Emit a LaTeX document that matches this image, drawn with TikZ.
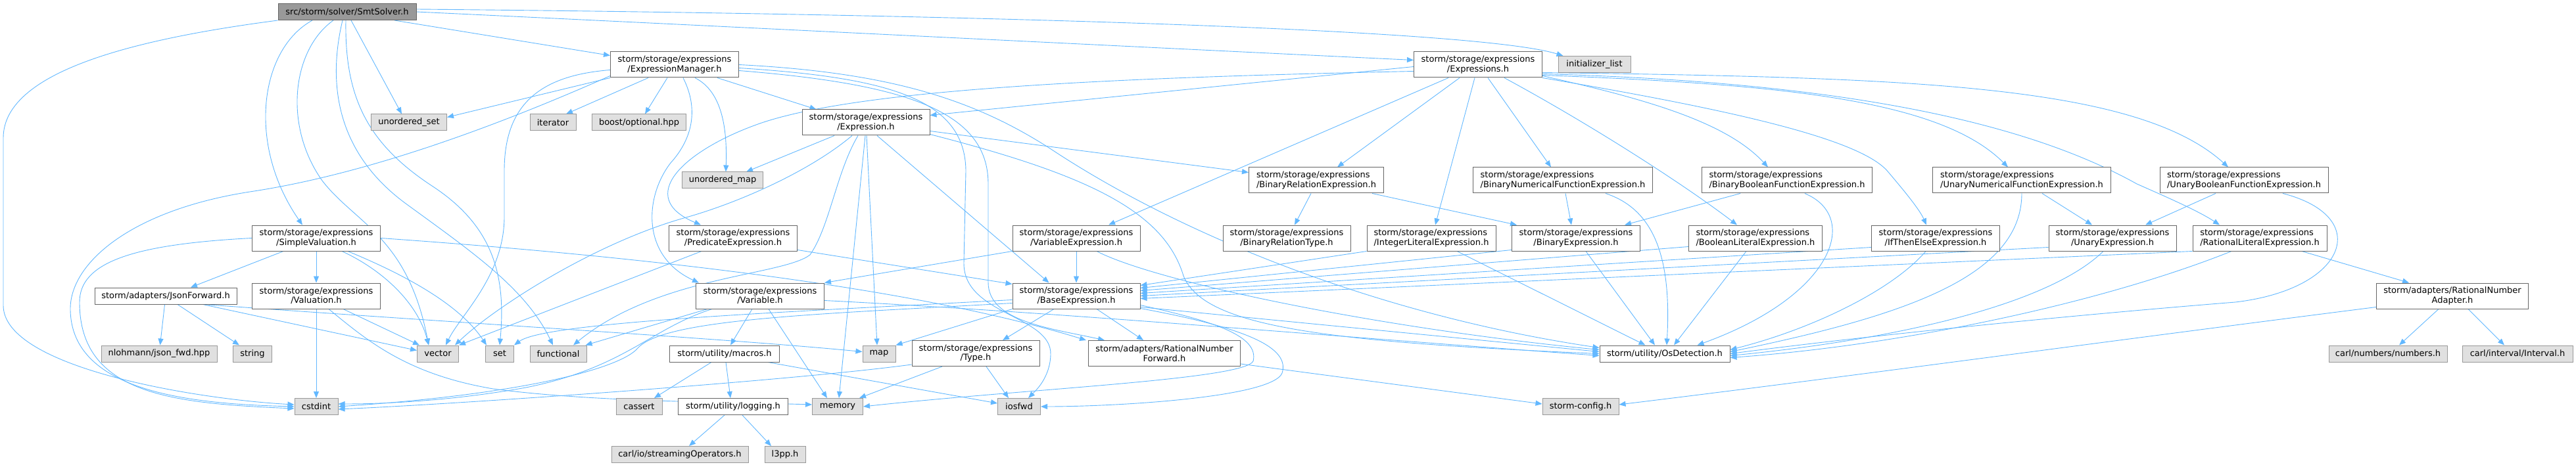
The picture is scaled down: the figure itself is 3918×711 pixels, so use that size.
\documentclass[tikz,border=0pt]{standalone}
\usepackage{fontspec}
\usepackage{tikz}
\usetikzlibrary{arrows.meta,calc,backgrounds}
\newfontfamily\doxyfont{DejaVu Sans}
\definecolor{edgeblue}{HTML}{63B8FF}
\definecolor{nodeline}{HTML}{666666}
\definecolor{sysline}{HTML}{999999}
\definecolor{sysfill}{HTML}{E0E0E0}
\definecolor{rootfill}{HTML}{999999}

\begin{document}
\begin{tikzpicture}[
  x=1pt, y=-1pt,
  hdr/.style={draw=nodeline, fill=white, line width=1pt, inner xsep=4pt, inner ysep=1pt,
    minimum height=25pt, font={\doxyfont\fontsize{13}{14.3}\selectfont}},
  hdrtwo/.style={hdr, minimum height=39pt, align=center},
  hdrleft/.style={hdr, minimum height=39pt, align=left},
  sys/.style={hdr, draw=sysline, fill=sysfill},
  root/.style={hdr, fill=rootfill},
  dep/.style={-{Triangle[length=10pt,width=8pt]}, draw=edgeblue, line width=0.9pt}
]
\useasboundingbox (0,0) rectangle (3918,711);

\node[root, minimum width=210pt] (smt) at (528,18) {src/storm/solver/SmtSolver.h};
\node[hdrtwo, minimum width=195pt] (exprmgr) at (1026,98.5) {storm/storage/expressions\\/ExpressionManager.h};
\node[hdrtwo, minimum width=195pt] (expressions) at (2248,98.5) {storm/storage/expressions\\/Expressions.h};
\node[sys, minimum width=110pt] (initlist) at (2425,98) {initializer\_list};
\node[sys, minimum width=115pt] (uset) at (622,186.5) {unordered\_set};
\node[sys, minimum width=70pt] (iterator) at (841,186.5) {iterator};
\node[sys, minimum width=143pt] (boostopt) at (972,186.5) {boost/optional.hpp};
\node[hdrtwo, minimum width=194pt] (expression) at (1317,186.5) {storm/storage/expressions\\/Expression.h};
\node[sys, minimum width=123pt] (umap) at (1099,274.5) {unordered\_map};
\node[hdrleft, minimum width=205pt] (binrel) at (2002,274.5) {storm/storage/expressions\\/BinaryRelationExpression.h};
\node[hdrleft, minimum width=273pt] (binnum) at (2377,274.5) {storm/storage/expressions\\/BinaryNumericalFunctionExpression.h};
\node[hdrleft, minimum width=259pt] (binbool) at (2718,274.5) {storm/storage/expressions\\/BinaryBooleanFunctionExpression.h};
\node[hdrleft, minimum width=271pt] (unnum) at (3075,274.5) {storm/storage/expressions\\/UnaryNumericalFunctionExpression.h};
\node[hdrleft, minimum width=256pt] (unbool) at (3413,274.5) {storm/storage/expressions\\/UnaryBooleanFunctionExpression.h};
\node[hdrtwo, minimum width=195pt] (simpval) at (481,362.5) {storm/storage/expressions\\/SimpleValuation.h};
\node[hdrtwo, minimum width=195pt] (predicate) at (1115,362.5) {storm/storage/expressions\\/PredicateExpression.h};
\node[hdrtwo, minimum width=194pt] (varexpr) at (1637,362.5) {storm/storage/expressions\\/VariableExpression.h};
\node[hdrtwo, minimum width=194pt] (binreltype) at (1957,362.5) {storm/storage/expressions\\/BinaryRelationType.h};
\node[hdrleft, minimum width=196pt] (intlit) at (2177,362.5) {storm/storage/expressions\\/IntegerLiteralExpression.h};
\node[hdrtwo, minimum width=195pt] (binexpr) at (2397,362.5) {storm/storage/expressions\\/BinaryExpression.h};
\node[hdrleft, minimum width=203pt] (boollit) at (2670,362.5) {storm/storage/expressions\\/BooleanLiteralExpression.h};
\node[hdrtwo, minimum width=195pt] (ite) at (2944,362.5) {storm/storage/expressions\\/IfThenElseExpression.h};
\node[hdrtwo, minimum width=194pt] (unexpr) at (3213,362.5) {storm/storage/expressions\\/UnaryExpression.h};
\node[hdrleft, minimum width=204pt] (ratlit) at (3437,362.5) {storm/storage/expressions\\/RationalLiteralExpression.h};
\node[hdr, minimum width=216pt] (json) at (252,450.5) {storm/adapters/JsonForward.h};
\node[hdrtwo, minimum width=195pt] (valuation) at (481,450.5) {storm/storage/expressions\\/Valuation.h};
\node[hdrtwo, minimum width=195pt] (variable) at (1156,450.5) {storm/storage/expressions\\/Variable.h};
\node[hdrtwo, minimum width=194pt] (base) at (1637,450.5) {storm/storage/expressions\\/BaseExpression.h};
\node[hdrtwo, minimum width=231pt] (ratadapt) at (3730,450.5) {storm/adapters/RationalNumber\\Adapter.h};
\node[sys, minimum width=176pt] (nlohmann) at (242,538.5) {nlohmann/json\_fwd.hpp};
\node[sys, minimum width=59pt] (string) at (384,538.5) {string};
\node[sys, minimum width=63pt] (vector) at (666,538.5) {vector};
\node[sys, minimum width=43pt] (set) at (760,538.5) {set};
\node[sys, minimum width=86pt] (functional) at (849,538.5) {functional};
\node[hdr, minimum width=167pt] (macros) at (1102,538.5) {storm/utility/macros.h};
\node[sys, minimum width=50pt] (map) at (1337,538.5) {map};
\node[hdrtwo, minimum width=194pt] (type) at (1484,538) {storm/storage/expressions\\/Type.h};
\node[hdrtwo, minimum width=231pt] (ratfwd) at (1771,538) {storm/adapters/RationalNumber\\Forward.h};
\node[hdr, minimum width=198pt] (osdet) at (2532,538.5) {storm/utility/OsDetection.h};
\node[sys, minimum width=180pt] (carlnum) at (3632,538.5) {carl/numbers/numbers.h};
\node[sys, minimum width=168pt] (carlint) at (3829,538.5) {carl/interval/Interval.h};
\node[sys, minimum width=66pt] (cstdint) at (481,619) {cstdint};
\node[sys, minimum width=70pt] (cassert) at (972,619) {cassert};
\node[hdr, minimum width=167pt] (logging) at (1115,619) {storm/utility/logging.h};
\node[sys, minimum width=77pt] (memory) at (1274,619) {memory};
\node[sys, minimum width=65pt] (iosfwd) at (1550,619) {iosfwd};
\node[sys, minimum width=116pt] (stormcfg) at (2404,619) {storm-config.h};
\node[sys, minimum width=208pt] (streamops) at (1034,692) {carl/io/streamingOperators.h};
\node[sys, minimum width=62pt] (l3pp) at (1194,692) {l3pp.h};

\begin{scope}[on background layer]
\draw[dep] (smt.south west) .. controls (200,60) and (5,110) .. (5,210) -- (5,465) .. controls (5,560) and (300,608) .. ($(cstdint.west)+(0,-3)$);
\draw[dep] ($(smt.south)+(-53,0)$) .. controls (395,75) and (375,220) .. ($(simpval.north)+(-21,0)$);
\draw[dep] ($(smt.south)+(-21,0)$) .. controls (445,75) and (430,190) .. (490,275) .. controls (540,340) and (620,360) .. ($(vector.north)+(-14,0)$);
\draw[dep] ($(smt.south)+(-2,0)$) .. controls (524,150) and (560,220) .. (660,285) .. controls (750,345) and (770,420) .. (set.north);
\draw[dep] ($(smt.south)+(-7,0)$) .. controls (495,140) and (520,240) .. (620,312) .. controls (720,385) and (800,440) .. ($(functional.north)+(-8,0)$);
\draw[dep] ($(smt.south)+(6,0)$) -- ($(uset.north)+(-11,0)$);
\draw[dep] ($(smt.south)+(72,0)$) -- ($(exprmgr.west)+(0,-14)$);
\draw[dep] (smt.east) .. controls (1100,40) and (1800,75) .. ($(expressions.west)+(0,-7)$);
\draw[dep] ($(smt.east)+(0,-4)$) .. controls (1500,22) and (2250,45) .. ($(initlist.north west)+(8,0)$);

\draw[dep] (exprmgr.south west) -- ($(uset.east)+(0,-8)$);
\draw[dep] ($(exprmgr.south west)+(0,-3)$) .. controls (760,190) and (560,265) .. (380,292) .. controls (200,320) and (107,400) .. (107,470) .. controls (107,600) and (300,615) .. (cstdint.west);
\draw[dep] ($(exprmgr.west)+(0,8)$) .. controls (820,115) and (767,160) .. (767,260) -- (767,330) .. controls (767,420) and (700,480) .. ($(vector.north)+(12,0)$);
\draw[dep] ($(exprmgr.south)+(-40,0)$) -- ($(iterator.north)+(20,0)$);
\draw[dep] ($(exprmgr.south)+(-11,0)$) -- ($(boostopt.north)+(9,0)$);
\draw[dep] ($(exprmgr.south)+(31,0)$) .. controls (1100,140) and (1106,200) .. ($(umap.north)+(5,0)$);
\draw[dep] ($(exprmgr.south)+(65,0)$) -- ($(expression.north west)+(22,0)$);
\draw[dep] ($(exprmgr.south)+(13,0)$) .. controls (1065,170) and (1050,215) .. (1020,248) .. controls (980,300) and (975,390) .. ($(variable.north west)+(5,0)$);
\draw[dep] (exprmgr.east) .. controls (1350,110) and (1480,150) .. (1600,228) .. controls (1800,360) and (2100,480) .. ($(osdet.west)+(0,-9)$);
\draw[dep] ($(exprmgr.east)+(0,5)$) .. controls (1350,118) and (1468,150) .. (1469,260) -- (1466,400) .. controls (1465,480) and (1600,480) .. (1598,540) .. controls (1597,575) and (1575,595) .. ($(iosfwd.north)+(14,0)$);
\draw[dep] ($(exprmgr.east)+(0,9)$) .. controls (1380,128) and (1503,170) .. (1503,280) -- (1503,430) .. controls (1503,490) and (1600,500) .. ($(ratfwd.north west)+(25,0)$);

\draw[dep] (simpval.west) .. controls (200,372) and (121,400) .. (121,460) .. controls (121,600) and (260,614) .. ($(cstdint.west)+(0,3)$);
\draw[dep] ($(simpval.south)+(-50,0)$) -- ($(json.north)+(38,0)$);
\draw[dep] (simpval) -- (valuation);
\draw[dep] ($(simpval.south)+(39,0)$) .. controls (580,410) and (635,460) .. ($(vector.north)+(-14,0)$);
\draw[dep] ($(simpval.south)+(48,0)$) .. controls (620,420) and (700,465) .. ($(set.north west)+(2,0)$);
\draw[dep] (simpval.east) .. controls (1000,392) and (1400,440) .. ($(ratfwd.north west)+(-3,0)$);

\draw[dep] (json) -- (nlohmann);
\draw[dep] ($(json.south)+(18,0)$) -- ($(string.north)+(-20,0)$);
\draw[dep] ($(json.south east)+(-52,0)$) -- ($(vector.west)+(0,-5)$);
\draw[dep] ($(json.south east)+(-50,0)$) .. controls (700,492) and (1100,515) .. ($(map.west)+(0,-3)$);

\draw[dep] (valuation) -- (cstdint);
\draw[dep] ($(valuation.south)+(41,0)$) -- ($(vector.north west)+(4,0)$);
\draw[dep] ($(valuation.south)+(19,0)$) .. controls (560,520) and (620,570) .. (750,592) .. controls (900,612) and (1100,612) .. ($(memory.west)+(0,-3)$);

\draw[dep] ($(expression.south)+(-48,0)$) -- ($(umap.north)+(36,0)$);
\draw[dep] ($(expression.south)+(-21,0)$) .. controls (1230,262) and (1120,310) .. (1040,332) .. controls (900,372) and (750,470) .. ($(vector.north east)+(-6,0)$);
\draw[dep] ($(expression.south)+(-12,0)$) .. controls (1272,262) and (1262,345) .. (1232,388) .. controls (1190,420) and (1000,420) .. ($(functional.north)+(23,0)$);
\draw[dep] ($(expression.south)+(-1,0)$) -- ($(memory.north)+(2,0)$);
\draw[dep] ($(expression.south)+(1,0)$) -- ($(map.north)+(-3,0)$);
\draw[dep] ($(expression.south)+(17,0)$) -- ($(base.north west)+(56,0)$);
\draw[dep] ($(expression.east)+(0,13)$) -- ($(binrel.west)+(0,-12)$);
\draw[dep] ($(expression.east)+(0,18)$) .. controls (1650,265) and (1770,320) .. (1800,420) .. controls (1830,495) and (2000,520) .. (osdet.west);

\draw[dep] ($(predicate.south east)+(0,-2)$) -- ($(base.north west)+(0,2)$);
\draw[dep] ($(predicate.south)+(-48,0)$) -- (vector.north east);

\draw[dep] ($(variable.south west)+(25,0)$) .. controls (990,500) and (950,560) .. (800,590) .. controls (700,608) and (600,615) .. ($(cstdint.east)+(0,-4)$);
\draw[dep] ($(variable.south west)+(18,0)$) -- ($(functional.north east)+(-2,0)$);
\draw[dep] ($(variable.south)+(-12,0)$) -- ($(macros.north)+(9,0)$);
\draw[dep] ($(variable.south)+(13,0)$) -- ($(memory.north)+(-16,0)$);
\draw[dep] ($(variable.east)+(0,7)$) .. controls (1600,475) and (2000,510) .. ($(osdet.west)+(0,3)$);

\draw[dep] ($(macros.south)+(-20,0)$) -- ($(cassert.north)+(23,0)$);
\draw[dep] ($(macros.south)+(2,0)$) -- ($(logging.north)+(-4,0)$);
\draw[dep] ($(macros.south east)+(-18,0)$) -- ($(iosfwd.west)+(0,-5)$);
\draw[dep] ($(logging.south)+(-13,0)$) -- ($(streamops.north)+(14,0)$);
\draw[dep] ($(logging.south)+(14,0)$) -- ($(l3pp.north)+(-21,0)$);

\draw[dep] (varexpr) -- (base);
\draw[dep] (varexpr.south west) -- (variable.north east);
\draw[dep] ($(varexpr.south)+(31,0)$) .. controls (1760,430) and (2100,500) .. ($(osdet.west)+(0,-6)$);

\draw[dep] ($(base.south)+(-34,0)$) -- ($(type.north)+(41,0)$);
\draw[dep] ($(base.south)+(31,0)$) -- ($(ratfwd.north)+(-32,0)$);
\draw[dep] ($(base.south east)+(0,-3)$) -- ($(osdet.west)+(0,-3)$);
\draw[dep] ($(base.south east)+(0,-6)$) .. controls (1850,490) and (1915,512) .. (1906,550) .. controls (1890,578) and (1560,592) .. (memory.east);
\draw[dep] ($(base.south east)+(0,-1)$) .. controls (1900,500) and (1962,530) .. (1950,568) .. controls (1935,605) and (1700,619) .. (iosfwd.east);
\draw[dep] ($(base.west)+(0,6)$) .. controls (1200,475) and (830,490) .. (set.north east);
\draw[dep] ($(base.west)+(0,11)$) .. controls (1250,478) and (1010,485) .. (970,530) .. controls (945,560) and (800,600) .. (cstdint.east);
\draw[dep] (base.south west) -- (map.north east);

\draw[dep] ($(type.south west)+(0,-3)$) .. controls (1200,580) and (700,615) .. ($(cstdint.east)+(0,4)$);
\draw[dep] ($(type.south)+(-51,0)$) -- ($(memory.north east)+(-6,0)$);
\draw[dep] ($(type.south)+(16,0)$) -- ($(iosfwd.north)+(-16,0)$);
\draw[dep] ($(ratfwd.south east)+(0,-4)$) -- ($(stormcfg.west)+(0,-4)$);

\draw[dep] ($(expressions.west)+(0,3)$) -- ($(expression.east)+(0,-11)$);
\draw[dep] ($(expressions.west)+(0,10)$) .. controls (1700,118) and (1300,135) .. (1150,190) .. controls (1040,230) and (965,300) .. ($(predicate.north)+(-49,0)$);
\draw[dep] ($(expressions.south)+(-45,0)$) -- ($(varexpr.north)+(49,0)$);
\draw[dep] ($(expressions.south)+(-28,0)$) -- ($(binrel.north)+(32,0)$);
\draw[dep] ($(expressions.south)+(-5,0)$) -- ($(intlit.north)+(6,0)$);
\draw[dep] ($(expressions.south)+(15,0)$) -- ($(binnum.north)+(-18,0)$);
\draw[dep] ($(expressions.south)+(40,0)$) .. controls (2420,190) and (2560,280) .. ($(boollit.north)+(-28,0)$);
\draw[dep] ($(expressions.south east)+(0,-3)$) .. controls (2500,150) and (2625,185) .. ($(binbool.north)+(-29,0)$);
\draw[dep] (expressions.south east) .. controls (2620,165) and (2830,210) .. (2872,262) .. controls (2900,295) and (2920,320) .. ($(ite.north)+(-14,0)$);
\draw[dep] ($(expressions.east)+(0,16)$) .. controls (2700,128) and (2950,150) .. ($(unnum.north)+(-21,0)$);
\draw[dep] ($(expressions.east)+(0,14)$) .. controls (2800,125) and (3080,185) .. (3250,280) .. controls (3300,302) and (3345,322) .. ($(ratlit.north)+(-61,0)$);
\draw[dep] ($(expressions.east)+(0,12)$) .. controls (2900,118) and (3250,128) .. ($(unbool.north)+(-24,0)$);

\draw[dep] ($(binrel.south)+(-8,0)$) -- ($(binreltype.north)+(12,0)$);
\draw[dep] ($(binrel.south east)+(-18,0)$) -- ($(binexpr.north west)+(8,0)$);
\draw[dep] ($(binnum.south)+(4,0)$) -- ($(binexpr.north)+(-7,0)$);
\draw[dep] ($(binnum.south)+(65,0)$) .. controls (2520,320) and (2542,400) .. ($(osdet.north)+(3,0)$);
\draw[dep] ($(binbool.south)+(-71,0)$) -- ($(binexpr.north east)+(-24,0)$);
\draw[dep] ($(binbool.south)+(27,0)$) .. controls (2830,330) and (2790,450) .. ($(osdet.north east)+(-50,0)$);
\draw[dep] ($(binexpr.west)+(0,18)$) -- ($(base.east)+(0,-12)$);
\draw[dep] ($(binexpr.south)+(15,0)$) -- ($(osdet.north)+(-15,0)$);
\draw[dep] ($(boollit.west)+(0,13)$) -- ($(base.east)+(0,-8)$);
\draw[dep] ($(boollit.south)+(-14,0)$) -- ($(osdet.north)+(14,0)$);
\draw[dep] (intlit.south west) -- ($(base.east)+(0,-16)$);
\draw[dep] ($(intlit.south)+(39,0)$) -- ($(osdet.north west)+(70,0)$);
\draw[dep] ($(ite.west)+(0,14)$) -- ($(base.east)+(0,-4)$);
\draw[dep] ($(ite.south)+(-15,0)$) .. controls (2880,440) and (2760,500) .. ($(osdet.east)+(0,-6)$);

\draw[dep] ($(unnum.south)+(31,0)$) -- ($(unexpr.north)+(-31,0)$);
\draw[dep] (unnum.south) .. controls (3075,420) and (2900,480) .. ($(osdet.east)+(0,-3)$);
\draw[dep] ($(unbool.south)+(-43,0)$) -- ($(unexpr.north)+(50,0)$);
\draw[dep] ($(unbool.south)+(59,0)$) .. controls (3610,330) and (3570,440) .. (3400,460) .. controls (3150,480) and (2850,510) .. (osdet.east);
\draw[dep] ($(unexpr.west)+(0,14)$) -- (base.east);
\draw[dep] ($(unexpr.south)+(-14,0)$) .. controls (3120,460) and (2900,515) .. ($(osdet.east)+(0,3)$);
\draw[dep] (ratlit.south west) -- ($(base.east)+(0,4)$);
\draw[dep] ($(ratlit.south)+(-43,0)$) .. controls (3200,460) and (2900,525) .. ($(osdet.east)+(0,6)$);
\draw[dep] ($(ratlit.south)+(64,0)$) -- ($(ratadapt.north)+(-66,0)$);

\draw[dep] ($(ratadapt.south)+(-21,0)$) -- ($(carlnum.north)+(17,0)$);
\draw[dep] ($(ratadapt.south)+(24,0)$) -- ($(carlint.north)+(-20,0)$);
\draw[dep] ($(ratadapt.west)+(0,17)$) .. controls (3200,520) and (2800,575) .. ($(stormcfg.east)+(0,-3)$);
\end{scope}
\end{tikzpicture}
\end{document}
